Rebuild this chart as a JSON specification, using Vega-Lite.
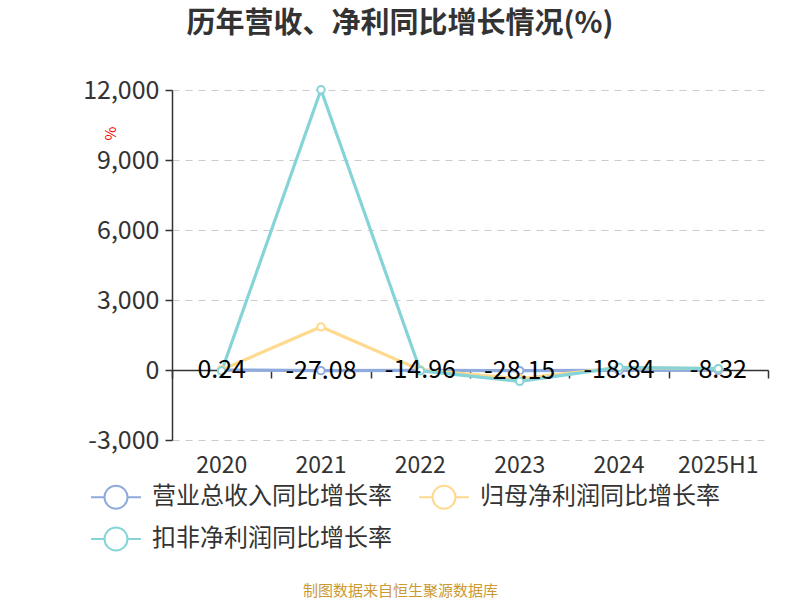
{
  "$schema": "https://vega.github.io/schema/vega-lite/v6.json",
  "width": 596,
  "height": 350,
  "autosize": {"type": "none"},
  "padding": {"left": 172, "top": 90, "right": 32, "bottom": 160},
  "background": "white",
  "config": {
    "font": "Noto Sans CJK SC",
    "view": {"stroke": null}
  },
  "title": {
    "text": "历年营收、净利同比增长情况(%)",
    "fontSize": 29,
    "fontWeight": "bold",
    "color": "#333333",
    "anchor": "middle",
    "frame": "group",
    "dx": -70,
    "baseline": "bottom",
    "offset": 10
  },
  "data": {
    "values": [
      {"year": "2020", "series": "营业总收入同比增长率", "value": 0.24},
      {"year": "2021", "series": "营业总收入同比增长率", "value": -27.08},
      {"year": "2022", "series": "营业总收入同比增长率", "value": -14.96},
      {"year": "2023", "series": "营业总收入同比增长率", "value": -28.15},
      {"year": "2024", "series": "营业总收入同比增长率", "value": -18.84},
      {"year": "2025H1", "series": "营业总收入同比增长率", "value": -8.32},
      {"year": "2020", "series": "归母净利润同比增长率", "value": 10},
      {"year": "2021", "series": "归母净利润同比增长率", "value": 1850},
      {"year": "2022", "series": "归母净利润同比增长率", "value": 5},
      {"year": "2023", "series": "归母净利润同比增长率", "value": -370},
      {"year": "2024", "series": "归母净利润同比增长率", "value": 105},
      {"year": "2025H1", "series": "归母净利润同比增长率", "value": 55},
      {"year": "2020", "series": "扣非净利润同比增长率", "value": -40},
      {"year": "2021", "series": "扣非净利润同比增长率", "value": 12010},
      {"year": "2022", "series": "扣非净利润同比增长率", "value": -30},
      {"year": "2023", "series": "扣非净利润同比增长率", "value": -485},
      {"year": "2024", "series": "扣非净利润同比增长率", "value": 115},
      {"year": "2025H1", "series": "扣非净利润同比增长率", "value": 60}
    ]
  },
  "encoding": {
    "x": {
      "field": "year",
      "type": "ordinal",
      "sort": ["2020", "2021", "2022", "2023", "2024", "2025H1"],
      "scale": {"type": "band", "paddingInner": 0, "paddingOuter": 0},
      "axis": null
    },
    "y": {
      "field": "value",
      "type": "quantitative",
      "scale": {"domain": [-3000, 12000], "nice": false, "zero": false},
      "axis": {
        "values": [-3000, 0, 3000, 6000, 9000, 12000],
        "labelExpr": "replace(format(datum.value, ',d'), '−', '-')",
        "title": "%",
        "titleColor": "#FF0000",
        "titleFontSize": 15,
        "titleFontWeight": "normal",
        "titleAngle": 270,
        "titleX": -62,
        "titleY": 43,
        "titleAlign": "center",
        "titleBaseline": "middle",
        "labelFontSize": 25,
        "labelColor": "#333333",
        "labelPadding": 6,
        "domainColor": "#333333",
        "domainWidth": 1.5,
        "tickColor": "#333333",
        "tickWidth": 1.5,
        "tickSize": 7,
        "grid": true,
        "gridColor": "#CCCCCC",
        "gridWidth": 1.2,
        "gridDash": [7, 6]
      }
    }
  },
  "layer": [
    {
      "mark": {"type": "line", "strokeWidth": 3.2},
      "encoding": {
        "x": {
          "field": "year",
          "type": "ordinal",
          "sort": ["2020", "2021", "2022", "2023", "2024", "2025H1"],
          "axis": {
            "orient": "bottom",
            "labelAngle": 0,
            "labelFontSize": 23,
            "labelColor": "#333333",
            "labelPadding": 14,
            "domain": false,
            "ticks": false,
            "grid": false,
            "title": "制图数据来自恒生聚源数据库",
            "titleColor": "#CC9933",
            "titleFontSize": 15,
            "titleFontWeight": "normal",
            "titleX": 228,
            "titleY": 150,
            "titleAlign": "center",
            "titleBaseline": "middle"
          }
        },
        "color": {
          "field": "series",
          "type": "nominal",
          "scale": {
            "domain": ["营业总收入同比增长率", "归母净利润同比增长率", "扣非净利润同比增长率"],
            "range": ["#8FAADC", "#FFD98E", "#86D4D8"]
          },
          "legend": {
            "title": null,
            "orient": "none",
            "legendX": -82,
            "legendY": 381,
            "direction": "horizontal",
            "columns": 2,
            "columnPadding": 23,
            "rowPadding": 0,
            "symbolType": "M-1,0H-0.46M0.46,0H1M-0.46,0A0.46,0.46,0,1,1,0.46,0A0.46,0.46,0,1,1,-0.46,0",
            "symbolSize": 2500,
            "symbolStrokeWidth": 2,
            "symbolFillColor": "#FFFFFF",
            "labelFontSize": 24,
            "labelColor": "#333333",
            "labelOffset": 10,
            "labelLimit": 400
          }
        }
      }
    },
    {
      "mark": {"type": "point", "shape": "circle", "size": 55, "filled": true, "fill": "#FFFFFF", "strokeWidth": 2, "opacity": 1},
      "encoding": {
        "stroke": {
          "field": "series",
          "type": "nominal",
          "scale": {
            "domain": ["营业总收入同比增长率", "归母净利润同比增长率", "扣非净利润同比增长率"],
            "range": ["#8FAADC", "#FFD98E", "#86D4D8"]
          },
          "legend": null
        }
      }
    },
    {
      "transform": [{"filter": "datum.series === '营业总收入同比增长率'"}],
      "mark": {"type": "text", "fontSize": 25, "color": "#000000", "align": "center", "baseline": "middle"},
      "encoding": {
        "x": {
          "field": "year",
          "type": "ordinal",
          "sort": ["2020", "2021", "2022", "2023", "2024", "2025H1"],
          "axis": {
            "orient": "bottom",
            "offset": -70,
            "labels": false,
            "domain": true,
            "domainColor": "#333333",
            "domainWidth": 1.5,
            "ticks": true,
            "tickBand": "extent",
            "tickColor": "#333333",
            "tickWidth": 1.5,
            "tickSize": 8,
            "grid": false,
            "title": null
          }
        },
        "text": {"field": "value", "type": "nominal"}
      }
    }
  ],
  "resolve": {"axis": {"x": "independent"}, "scale": {"x": "shared"}}
}
